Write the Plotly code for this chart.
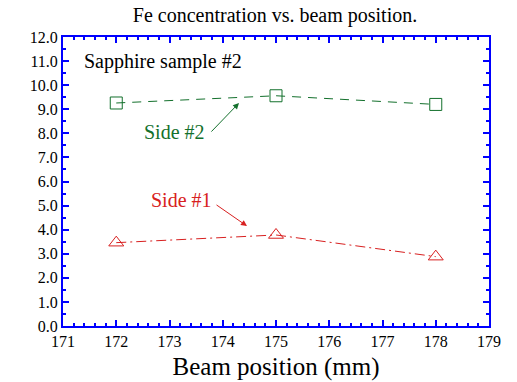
import plotly.graph_objects as go

# Data
positions = [172, 175, 178]
side2_values = [9.26, 9.56, 9.20]
side1_values = [3.46, 3.78, 2.88]
side2_name = "Side #2"
side1_name = "Side #1"

GREEN = "#13702c"
RED = "#d82020"
BLUE = "#0000ff"
FONT = "'Liberation Serif', 'Times New Roman', Times, serif"

fig = go.Figure()
fig.add_trace(go.Scatter(
    x=positions, y=side2_values, mode="lines+markers", name=side2_name,
    line=dict(color=GREEN, width=1, dash="9px,7px"),
    marker=dict(symbol="square-open", size=12, color=GREEN, line=dict(width=1)),
))
fig.add_trace(go.Scatter(
    x=positions, y=side1_values, mode="lines+markers", name=side1_name,
    line=dict(color=RED, width=1, dash="10px,4px,2px,4px"),
    marker=dict(symbol="triangle-up-open", size=13, color=RED, line=dict(width=1)),
))

axis_common = dict(
    showline=True, linecolor=BLUE, linewidth=2, mirror="ticks",
    ticks="inside", ticklen=6, tickwidth=2, tickcolor=BLUE,
    showgrid=False, zeroline=False, automargin=False,
    tickfont=dict(family=FONT, size=16, color="black"),
)

fig.update_layout(
    width=517, height=382,
    margin=dict(l=63, r=28, t=37, b=56),
    paper_bgcolor="white", plot_bgcolor="white",
    showlegend=False,
    font=dict(family=FONT, color="black"),
    title=dict(text="Fe concentration vs. beam position.", x=0.532, xref="container",
               y=1 - 15 / 382, yref="container", xanchor="center", yanchor="middle",
               font=dict(family=FONT, size=20, color="black")),
    xaxis=dict(range=[171, 179], dtick=1, tick0=171,
               minor=dict(dtick=0.2, ticks="inside", ticklen=3, tickwidth=2, tickcolor=BLUE, showgrid=False),
               title=dict(text="Beam position (mm)", font=dict(family=FONT, size=25, color="black"), standoff=8),
               **axis_common),
    yaxis=dict(range=[0, 12], dtick=1, tick0=0, tickformat=".1f",
               minor=dict(dtick=0.5, ticks="inside", ticklen=3, tickwidth=2, tickcolor=BLUE, showgrid=False),
               **axis_common),
)

fig.add_annotation(x=172.87, y=10.97, text="Sapphire sample #2", showarrow=False,
                   font=dict(family=FONT, size=20, color="black"))
fig.add_annotation(x=173.10, y=8.05, text="Side #2", showarrow=False,
                   font=dict(family=FONT, size=20, color=GREEN))
fig.add_annotation(x=173.23, y=5.23, text="Side #1", showarrow=False,
                   font=dict(family=FONT, size=20, color=RED))
# arrows
fig.add_annotation(x=174.305, y=9.26, ax=173.76, ay=8.01, axref="x", ayref="y",
                   text="", showarrow=True, arrowhead=2, arrowsize=1.2, arrowwidth=1,
                   arrowcolor=GREEN)
fig.add_annotation(x=174.455, y=4.15, ax=173.855, ay=5.07, axref="x", ayref="y",
                   text="", showarrow=True, arrowhead=2, arrowsize=1.2, arrowwidth=1,
                   arrowcolor=RED)

fig.write_html("out.html", config={"displayModeBar": False},
               post_script="document.body.style.margin='0';document.body.style.overflow='hidden';")
